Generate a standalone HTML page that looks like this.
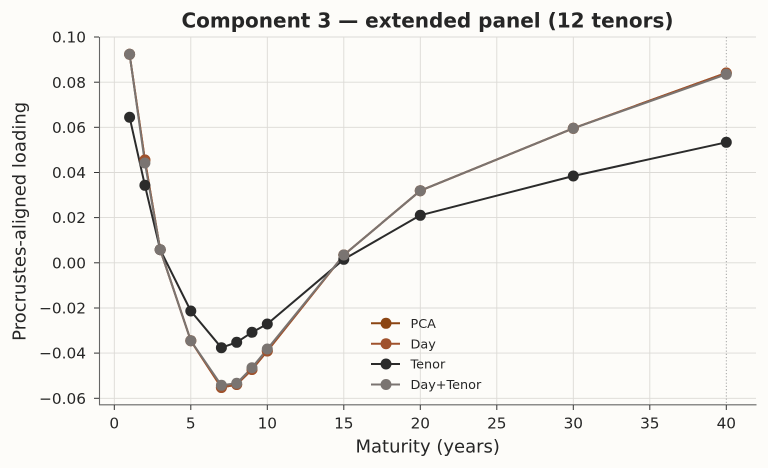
<!DOCTYPE html>
<html><head><meta charset="utf-8">
<style>
html,body{margin:0;padding:0;background:#fdfcf9;}
svg{display:block;}
text{font-family:"DejaVu Sans","Liberation Sans",sans-serif;fill:#262626;}
</style></head>
<body>
<svg width="768" height="468" viewBox="0 0 768 468" xmlns="http://www.w3.org/2000/svg">
<rect width="768" height="468" fill="#fdfcf9"/>
<!-- grid -->
<g stroke="#dcdad6" stroke-width="0.9">
<line x1="114.3" y1="37" x2="114.3" y2="405"/>
<line x1="190.8" y1="37" x2="190.8" y2="405"/>
<line x1="267.3" y1="37" x2="267.3" y2="405"/>
<line x1="343.8" y1="37" x2="343.8" y2="405"/>
<line x1="420.3" y1="37" x2="420.3" y2="405"/>
<line x1="496.8" y1="37" x2="496.8" y2="405"/>
<line x1="573.3" y1="37" x2="573.3" y2="405"/>
<line x1="649.8" y1="37" x2="649.8" y2="405"/>
<line x1="99.5" y1="37" x2="756" y2="37"/>
<line x1="99.5" y1="82.2" x2="756" y2="82.2"/>
<line x1="99.5" y1="127.3" x2="756" y2="127.3"/>
<line x1="99.5" y1="172.5" x2="756" y2="172.5"/>
<line x1="99.5" y1="217.6" x2="756" y2="217.6"/>
<line x1="99.5" y1="262.8" x2="756" y2="262.8"/>
<line x1="99.5" y1="308" x2="756" y2="308"/>
<line x1="99.5" y1="353.1" x2="756" y2="353.1"/>
<line x1="99.5" y1="398.3" x2="756" y2="398.3"/>
</g>
<line x1="726.3" y1="37" x2="726.3" y2="405" stroke="#999" stroke-width="0.9" stroke-dasharray="1.2,2"/>
<!-- spines -->
<line x1="99.5" y1="37" x2="99.5" y2="405" stroke="#666" stroke-width="1.1"/>
<line x1="99" y1="404.8" x2="756.5" y2="404.8" stroke="#666" stroke-width="1.1"/>
<!-- ticks -->
<g stroke="#333" stroke-width="1">
<line x1="94" y1="37" x2="99" y2="37"/>
<line x1="94" y1="82.2" x2="99" y2="82.2"/>
<line x1="94" y1="127.3" x2="99" y2="127.3"/>
<line x1="94" y1="172.5" x2="99" y2="172.5"/>
<line x1="94" y1="217.6" x2="99" y2="217.6"/>
<line x1="94" y1="262.8" x2="99" y2="262.8"/>
<line x1="94" y1="308" x2="99" y2="308"/>
<line x1="94" y1="353.1" x2="99" y2="353.1"/>
<line x1="94" y1="398.3" x2="99" y2="398.3"/>
<line x1="114.3" y1="405" x2="114.3" y2="410"/>
<line x1="190.8" y1="405" x2="190.8" y2="410"/>
<line x1="267.3" y1="405" x2="267.3" y2="410"/>
<line x1="343.8" y1="405" x2="343.8" y2="410"/>
<line x1="420.3" y1="405" x2="420.3" y2="410"/>
<line x1="496.8" y1="405" x2="496.8" y2="410"/>
<line x1="573.3" y1="405" x2="573.3" y2="410"/>
<line x1="649.8" y1="405" x2="649.8" y2="410"/>
<line x1="726.3" y1="405" x2="726.3" y2="410"/>
</g>
<!-- y tick labels -->
<g font-size="15.3" text-anchor="end">
<text x="86" y="42.6">0.10</text>
<text x="86" y="87.8">0.08</text>
<text x="86" y="132.9">0.06</text>
<text x="86" y="178.1">0.04</text>
<text x="86" y="223.2">0.02</text>
<text x="86" y="268.4">0.00</text>
<text x="86" y="313.6">−0.02</text>
<text x="86" y="358.7">−0.04</text>
<text x="86" y="403.9">−0.06</text>
</g>
<!-- x tick labels -->
<g font-size="15.3" text-anchor="middle">
<text x="114.3" y="428.3">0</text>
<text x="190.8" y="428.3">5</text>
<text x="267.3" y="428.3">10</text>
<text x="343.8" y="428.3">15</text>
<text x="420.3" y="428.3">20</text>
<text x="496.8" y="428.3">25</text>
<text x="573.3" y="428.3">30</text>
<text x="649.8" y="428.3">35</text>
<text x="726.3" y="428.3">40</text>
</g>
<!-- axis labels -->
<text x="427.7" y="452.7" font-size="18" text-anchor="middle">Maturity (years)</text>
<text transform="translate(25.5,221.3) rotate(-90)" font-size="18" text-anchor="middle">Procrustes-aligned loading</text>
<!-- title -->
<text x="427.5" y="27.3" font-size="20" font-weight="bold" text-anchor="middle">Component 3 — extended panel (12 tenors)</text>
<!-- series -->
<g fill="none" stroke-width="2" stroke-linejoin="round">
<polyline stroke="#8b4513" points="129.6,54.3 144.9,160 160.2,249.7 190.8,340.7 221.4,387.5 236.7,384.5 252,369.5 267.3,351 343.8,255 420.3,190.7 573.3,128.3 726.3,73"/>
<polyline stroke="#a0522d" points="129.6,54.3 144.9,160 160.2,249.7 190.8,340.7 221.4,387.5 236.7,384.5 252,369.5 267.3,351 343.8,255 420.3,190.7 573.3,128.3 726.3,73"/>
<polyline stroke="#2b2b2b" points="129.6,117.3 144.9,185.3 160.2,249.7 190.8,311 221.4,347.7 236.7,342.3 252,332.3 267.3,324 343.8,259.3 420.3,215.3 573.3,176 726.3,142.3"/>
<polyline stroke="#7a7471" points="129.6,54.3 144.9,163 160.2,249.7 190.8,340.7 221.4,385.3 236.7,383.3 252,367.7 267.3,349 343.8,255 420.3,190.7 573.3,128.3 726.3,74.3"/>
</g>
<g fill="#8b4513">
<circle cx="129.6" cy="54.3" r="5.5"/><circle cx="144.9" cy="160" r="5.5"/><circle cx="160.2" cy="249.7" r="5.5"/><circle cx="190.8" cy="340.7" r="5.5"/><circle cx="221.4" cy="387.5" r="5.5"/><circle cx="236.7" cy="384.5" r="5.5"/><circle cx="252" cy="369.5" r="5.5"/><circle cx="267.3" cy="351" r="5.5"/><circle cx="343.8" cy="255" r="5.5"/><circle cx="420.3" cy="190.7" r="5.5"/><circle cx="573.3" cy="128.3" r="5.5"/><circle cx="726.3" cy="73" r="5.5"/>
</g>
<g fill="#a0522d">
<circle cx="129.6" cy="54.3" r="5.5"/><circle cx="144.9" cy="160" r="5.5"/><circle cx="160.2" cy="249.7" r="5.5"/><circle cx="190.8" cy="340.7" r="5.5"/><circle cx="221.4" cy="387.5" r="5.5"/><circle cx="236.7" cy="384.5" r="5.5"/><circle cx="252" cy="369.5" r="5.5"/><circle cx="267.3" cy="351" r="5.5"/><circle cx="343.8" cy="255" r="5.5"/><circle cx="420.3" cy="190.7" r="5.5"/><circle cx="573.3" cy="128.3" r="5.5"/><circle cx="726.3" cy="73" r="5.5"/>
</g>
<g fill="#2b2b2b">
<circle cx="129.6" cy="117.3" r="5.5"/><circle cx="144.9" cy="185.3" r="5.5"/><circle cx="160.2" cy="249.7" r="5.5"/><circle cx="190.8" cy="311" r="5.5"/><circle cx="221.4" cy="347.7" r="5.5"/><circle cx="236.7" cy="342.3" r="5.5"/><circle cx="252" cy="332.3" r="5.5"/><circle cx="267.3" cy="324" r="5.5"/><circle cx="343.8" cy="259.3" r="5.5"/><circle cx="420.3" cy="215.3" r="5.5"/><circle cx="573.3" cy="176" r="5.5"/><circle cx="726.3" cy="142.3" r="5.5"/>
</g>
<g fill="#7a7471">
<circle cx="129.6" cy="54.3" r="5.5"/><circle cx="144.9" cy="163" r="5.5"/><circle cx="160.2" cy="249.7" r="5.5"/><circle cx="190.8" cy="340.7" r="5.5"/><circle cx="221.4" cy="385.3" r="5.5"/><circle cx="236.7" cy="383.3" r="5.5"/><circle cx="252" cy="367.7" r="5.5"/><circle cx="267.3" cy="349" r="5.5"/><circle cx="343.8" cy="255" r="5.5"/><circle cx="420.3" cy="190.7" r="5.5"/><circle cx="573.3" cy="128.3" r="5.5"/><circle cx="726.3" cy="74.3" r="5.5"/>
</g>
<!-- legend -->
<g stroke-width="2">
<line x1="371" y1="323.3" x2="400" y2="323.3" stroke="#8b4513"/>
<line x1="371" y1="343.7" x2="400" y2="343.7" stroke="#a0522d"/>
<line x1="371" y1="364" x2="400" y2="364" stroke="#2b2b2b"/>
<line x1="371" y1="384.5" x2="400" y2="384.5" stroke="#7a7471"/>
</g>
<circle cx="386" cy="323.3" r="5.5" fill="#8b4513"/>
<circle cx="386" cy="343.7" r="5.5" fill="#a0522d"/>
<circle cx="386" cy="364" r="5.5" fill="#2b2b2b"/>
<circle cx="386" cy="384.5" r="5.5" fill="#7a7471"/>
<g font-size="12.8">
<text x="410.5" y="327.9">PCA</text>
<text x="410.5" y="348.3">Day</text>
<text x="410.5" y="368.6">Tenor</text>
<text x="410.5" y="389.1">Day+Tenor</text>
</g>
</svg>
</body></html>
